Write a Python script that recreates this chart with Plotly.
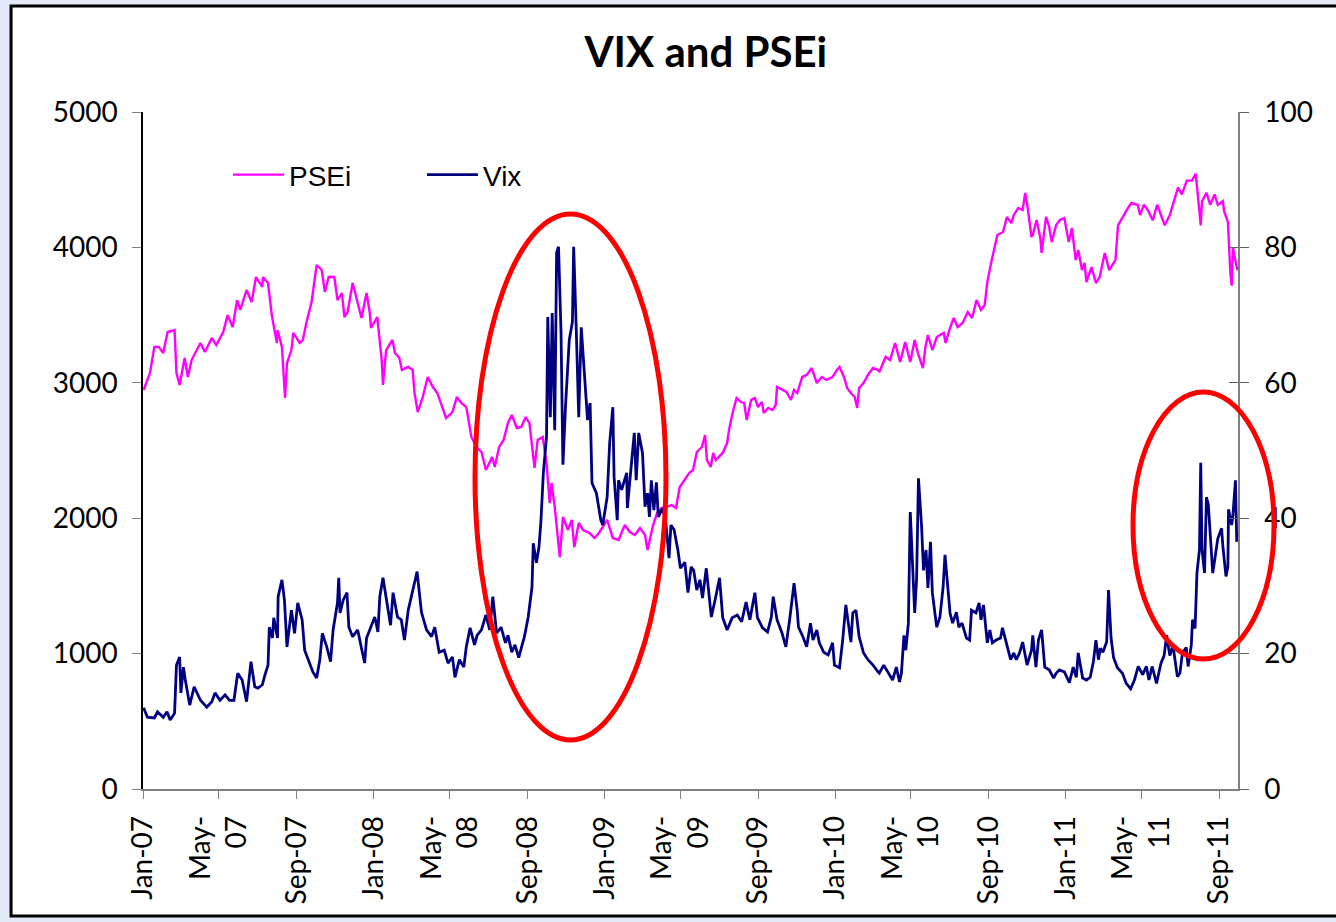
import plotly.graph_objects as go

# PSEi index (left axis)
psei_dates = [
    "2007-01-02", "2007-01-12", "2007-01-19", "2007-01-26", "2007-02-02", "2007-02-09", "2007-02-20", "2007-02-23",
    "2007-02-28", "2007-03-08", "2007-03-13", "2007-03-19", "2007-04-02", "2007-04-09", "2007-04-20", "2007-04-27",
    "2007-05-08", "2007-05-15", "2007-05-23", "2007-05-30", "2007-06-04", "2007-06-14", "2007-06-22", "2007-06-29",
    "2007-07-09", "2007-07-10", "2007-07-18", "2007-07-24", "2007-08-01", "2007-08-02", "2007-08-09", "2007-08-14",
    "2007-08-17", "2007-08-24", "2007-08-27", "2007-09-06", "2007-09-11", "2007-09-17", "2007-09-25", "2007-10-03",
    "2007-10-11", "2007-10-16", "2007-10-22", "2007-10-31", "2007-11-05", "2007-11-12", "2007-11-16", "2007-11-21",
    "2007-11-29", "2007-12-05", "2007-12-13", "2007-12-21", "2007-12-26", "2007-12-28", "2008-01-07", "2008-01-14",
    "2008-01-16", "2008-01-21", "2008-01-31", "2008-02-04", "2008-02-11", "2008-02-15", "2008-02-25", "2008-03-03",
    "2008-03-06", "2008-03-11", "2008-03-19", "2008-03-27", "2008-04-04", "2008-04-11", "2008-04-18", "2008-04-25",
    "2008-05-05", "2008-05-12", "2008-05-19", "2008-05-27", "2008-06-04", "2008-06-12", "2008-06-20", "2008-06-27",
    "2008-07-07", "2008-07-11", "2008-07-18", "2008-07-25", "2008-08-01", "2008-08-07", "2008-08-15", "2008-08-22",
    "2008-08-29", "2008-09-04", "2008-09-12", "2008-09-17", "2008-09-25", "2008-10-01", "2008-10-06", "2008-10-09",
    "2008-10-14", "2008-10-22", "2008-10-27", "2008-11-04", "2008-11-10", "2008-11-14", "2008-11-21", "2008-11-28",
    "2008-12-08", "2008-12-16", "2008-12-23", "2009-01-05", "2009-01-14", "2009-01-23", "2009-02-02", "2009-02-10",
    "2009-02-18", "2009-02-26", "2009-03-06", "2009-03-10", "2009-03-18", "2009-03-25", "2009-04-01", "2009-04-09",
    "2009-04-17", "2009-04-24", "2009-04-30", "2009-05-08", "2009-05-15", "2009-05-21", "2009-05-27", "2009-06-04",
    "2009-06-09", "2009-06-12", "2009-06-18", "2009-06-22", "2009-06-26", "2009-07-07", "2009-07-14", "2009-07-17",
    "2009-07-23", "2009-07-29", "2009-08-05", "2009-08-10", "2009-08-14", "2009-08-21", "2009-08-27", "2009-09-01",
    "2009-09-07", "2009-09-10", "2009-09-17", "2009-09-24", "2009-09-29", "2009-10-01", "2009-10-09", "2009-10-16",
    "2009-10-23", "2009-10-28", "2009-11-02", "2009-11-10", "2009-11-17", "2009-11-25", "2009-12-03", "2009-12-11",
    "2009-12-18", "2009-12-28", "2010-01-04", "2010-01-08", "2010-01-15", "2010-01-20", "2010-01-26", "2010-02-01",
    "2010-02-05", "2010-02-08", "2010-02-15", "2010-02-22", "2010-03-02", "2010-03-10", "2010-03-12", "2010-03-22",
    "2010-03-29", "2010-04-06", "2010-04-14", "2010-04-22", "2010-04-30", "2010-05-07", "2010-05-12", "2010-05-20",
    "2010-05-24", "2010-05-28", "2010-06-04", "2010-06-11", "2010-06-22", "2010-06-25", "2010-07-02", "2010-07-08",
    "2010-07-14", "2010-07-22", "2010-07-30", "2010-08-06", "2010-08-13", "2010-08-20", "2010-08-26", "2010-08-30",
    "2010-09-06", "2010-09-10", "2010-09-15", "2010-09-24", "2010-09-30", "2010-10-07", "2010-10-11", "2010-10-18",
    "2010-10-25", "2010-10-29", "2010-11-02", "2010-11-08", "2010-11-10", "2010-11-16", "2010-11-22", "2010-11-24",
    "2010-12-01", "2010-12-06", "2010-12-10", "2010-12-17", "2010-12-23", "2010-12-30", "2011-01-06", "2011-01-11",
    "2011-01-17", "2011-01-21", "2011-01-27", "2011-01-31", "2011-02-03", "2011-02-11", "2011-02-18", "2011-02-24",
    "2011-03-04", "2011-03-11", "2011-03-21", "2011-03-25", "2011-04-01", "2011-04-08", "2011-04-15", "2011-04-25",
    "2011-04-29", "2011-05-05", "2011-05-11", "2011-05-19", "2011-05-26", "2011-06-01", "2011-06-07", "2011-06-15",
    "2011-06-20", "2011-06-28", "2011-07-04", "2011-07-12", "2011-07-20", "2011-07-26", "2011-07-29", "2011-08-03",
    "2011-08-05", "2011-08-12", "2011-08-18", "2011-08-25", "2011-08-30", "2011-09-07", "2011-09-09", "2011-09-15",
    "2011-09-19", "2011-09-21", "2011-09-23", "2011-09-28", "2011-09-30",
]
psei_values = [
    2947, 3072, 3265, 3265, 3220, 3375, 3390, 3072,
    2984, 3183, 3043, 3168, 3294, 3227, 3331, 3279,
    3375, 3500, 3412, 3611, 3538, 3685, 3597, 3781,
    3708, 3781, 3737, 3500, 3294, 3390, 3265, 2888,
    3146, 3242, 3368, 3294, 3316, 3449, 3597, 3870,
    3833, 3671, 3781, 3781, 3611, 3663, 3486, 3523,
    3737, 3634, 3479, 3663, 3523, 3405, 3486, 3168,
    2984, 3242, 3316, 3220, 3183, 3095, 3117, 3095,
    2925, 2784, 2895, 3043, 2969, 2925, 2836, 2740,
    2784, 2895, 2851, 2821, 2600, 2526, 2489, 2356,
    2452, 2378, 2526, 2578, 2703, 2762, 2666, 2674,
    2747, 2703, 2371, 2578, 2600, 2408, 2112, 2260,
    2083, 1713, 2009, 1913, 1987, 1787, 1965, 1913,
    1891, 1854, 1891, 1987, 1854, 1839, 1950, 1898,
    1876, 1928, 1876, 1765, 1935, 2038, 2075, 2083,
    2097, 2075, 2230, 2282, 2334, 2356, 2489, 2526,
    2614, 2430, 2378, 2482, 2430, 2482, 2555, 2651,
    2784, 2888, 2858, 2851, 2725, 2873, 2888, 2821,
    2858, 2777, 2814, 2799, 2836, 2969, 2947, 2932,
    2873, 2947, 2925, 3043, 3058, 3109, 2998, 3043,
    3021, 3043, 3095, 3117, 3043, 2962, 2925, 2895,
    2814, 2962, 2998, 3058, 3109, 3095, 3080, 3191,
    3168, 3294, 3153, 3301, 3153, 3316, 3220, 3109,
    3265, 3353, 3242, 3338, 3368, 3294, 3405, 3479,
    3412, 3442, 3523, 3479, 3611, 3538, 3575, 3744,
    3907, 3996, 4092, 4114, 4225, 4180, 4240, 4291,
    4276, 4402, 4291, 4077, 4092, 4202, 4069, 3959,
    4225, 4151, 4040, 4165, 4202, 4217, 4040, 4143,
    3907, 3981, 3833, 3885, 3744, 3855, 3737, 3781,
    3959, 3832, 3908, 4163, 4226, 4277, 4328, 4315,
    4239, 4315, 4277, 4200, 4315, 4239, 4163, 4239,
    4315, 4442, 4391, 4493, 4493, 4544, 4404, 4163,
    4341, 4404, 4315, 4391, 4315, 4341, 4267, 4188,
    3806, 3717, 3997, 3857, 3832,
]

# VIX (right axis)
vix_dates = [
    "2007-01-02", "2007-01-08", "2007-01-19", "2007-01-24", "2007-02-02", "2007-02-08", "2007-02-13", "2007-02-20",
    "2007-02-23", "2007-02-28", "2007-03-02", "2007-03-06", "2007-03-09", "2007-03-16", "2007-03-23", "2007-04-02",
    "2007-04-12", "2007-04-20", "2007-04-25", "2007-05-03", "2007-05-11", "2007-05-18", "2007-05-25", "2007-05-31",
    "2007-06-07", "2007-06-14", "2007-06-21", "2007-06-27", "2007-07-02", "2007-07-09", "2007-07-13", "2007-07-18",
    "2007-07-20", "2007-07-25", "2007-07-27", "2007-08-02", "2007-08-03", "2007-08-09", "2007-08-13", "2007-08-17",
    "2007-08-24", "2007-08-29", "2007-09-03", "2007-09-10", "2007-09-14", "2007-09-21", "2007-09-27", "2007-10-03",
    "2007-10-08", "2007-10-12", "2007-10-19", "2007-10-25", "2007-10-29", "2007-11-05", "2007-11-07", "2007-11-09",
    "2007-11-14", "2007-11-20", "2007-11-23", "2007-11-29", "2007-12-07", "2007-12-13", "2007-12-18", "2007-12-21",
    "2007-12-31", "2008-01-03", "2008-01-08", "2008-01-11", "2008-01-16", "2008-01-22", "2008-01-28", "2008-02-01",
    "2008-02-08", "2008-02-14", "2008-02-19", "2008-02-25", "2008-03-03", "2008-03-10", "2008-03-17", "2008-03-25",
    "2008-04-02", "2008-04-07", "2008-04-14", "2008-04-22", "2008-04-28", "2008-05-05", "2008-05-09", "2008-05-16",
    "2008-05-23", "2008-05-27", "2008-06-02", "2008-06-09", "2008-06-13", "2008-06-20", "2008-06-27", "2008-07-03",
    "2008-07-08", "2008-07-14", "2008-07-21", "2008-07-28", "2008-08-01", "2008-08-07", "2008-08-12", "2008-08-18",
    "2008-08-22", "2008-08-27", "2008-09-02", "2008-09-08", "2008-09-10", "2008-09-15", "2008-09-19", "2008-09-22",
    "2008-09-26", "2008-10-01", "2008-10-03", "2008-10-07", "2008-10-10", "2008-10-14", "2008-10-17", "2008-10-20",
    "2008-10-24", "2008-10-27", "2008-10-31", "2008-11-06", "2008-11-11", "2008-11-13", "2008-11-17", "2008-11-21",
    "2008-11-25", "2008-12-01", "2008-12-05", "2008-12-09", "2008-12-12", "2008-12-19", "2008-12-26", "2008-12-29",
    "2009-01-05", "2009-01-09", "2009-01-14", "2009-01-16", "2009-01-21", "2009-01-23", "2009-01-28", "2009-02-05",
    "2009-02-06", "2009-02-13", "2009-02-17", "2009-02-20", "2009-02-24", "2009-03-02", "2009-03-06", "2009-03-10",
    "2009-03-13", "2009-03-16", "2009-03-20", "2009-03-24", "2009-03-27", "2009-04-03", "2009-04-08", "2009-04-13",
    "2009-04-16", "2009-04-21", "2009-04-27", "2009-05-01", "2009-05-08", "2009-05-13", "2009-05-18", "2009-05-22",
    "2009-05-27", "2009-06-01", "2009-06-05", "2009-06-11", "2009-06-16", "2009-06-19", "2009-06-26", "2009-07-02",
    "2009-07-07", "2009-07-14", "2009-07-22", "2009-07-30", "2009-08-06", "2009-08-13", "2009-08-19", "2009-08-27",
    "2009-08-31", "2009-09-08", "2009-09-16", "2009-09-22", "2009-09-25", "2009-10-01", "2009-10-09", "2009-10-15",
    "2009-10-21", "2009-10-28", "2009-11-02", "2009-11-04", "2009-11-11", "2009-11-17", "2009-11-23", "2009-11-27",
    "2009-12-03", "2009-12-07", "2009-12-14", "2009-12-21", "2009-12-28", "2009-12-31", "2010-01-08", "2010-01-13",
    "2010-01-18", "2010-01-21", "2010-01-26", "2010-01-29", "2010-02-03", "2010-02-08", "2010-02-15", "2010-02-22",
    "2010-03-02", "2010-03-10", "2010-03-12", "2010-03-19", "2010-03-25", "2010-04-02", "2010-04-08", "2010-04-13",
    "2010-04-16", "2010-04-20", "2010-04-23", "2010-04-27", "2010-04-30", "2010-05-05", "2010-05-07", "2010-05-10",
    "2010-05-13", "2010-05-18", "2010-05-21", "2010-05-25", "2010-05-28", "2010-06-01", "2010-06-04", "2010-06-08",
    "2010-06-11", "2010-06-16", "2010-06-21", "2010-06-24", "2010-06-28", "2010-07-02", "2010-07-06", "2010-07-12",
    "2010-07-16", "2010-07-21", "2010-07-28", "2010-08-02", "2010-08-05", "2010-08-12", "2010-08-17", "2010-08-20",
    "2010-08-24", "2010-08-30", "2010-09-03", "2010-09-07", "2010-09-13", "2010-09-20", "2010-09-23", "2010-09-29",
    "2010-10-06", "2010-10-11", "2010-10-15", "2010-10-20", "2010-10-25", "2010-11-01", "2010-11-08", "2010-11-10",
    "2010-11-15", "2010-11-19", "2010-11-24", "2010-11-29", "2010-12-06", "2010-12-13", "2010-12-17", "2010-12-22",
    "2010-12-30", "2011-01-07", "2011-01-13", "2011-01-18", "2011-01-21", "2011-01-28", "2011-02-03", "2011-02-09",
    "2011-02-14", "2011-02-18", "2011-02-22", "2011-02-25", "2011-03-01", "2011-03-07", "2011-03-10", "2011-03-14",
    "2011-03-18", "2011-03-24", "2011-04-01", "2011-04-07", "2011-04-14", "2011-04-20", "2011-04-26", "2011-05-03",
    "2011-05-09", "2011-05-13", "2011-05-18", "2011-05-25", "2011-06-01", "2011-06-06", "2011-06-10", "2011-06-15",
    "2011-06-20", "2011-06-27", "2011-07-01", "2011-07-05", "2011-07-11", "2011-07-14", "2011-07-19", "2011-07-21",
    "2011-07-25", "2011-07-28", "2011-08-01", "2011-08-03", "2011-08-05", "2011-08-09", "2011-08-12", "2011-08-15",
    "2011-08-18", "2011-08-22", "2011-08-26", "2011-08-30", "2011-09-05", "2011-09-07", "2011-09-12", "2011-09-15",
    "2011-09-16", "2011-09-21", "2011-09-23", "2011-09-27", "2011-09-29",
]
vix_values = [
    12.0, 10.6, 10.5, 11.4, 10.6, 11.4, 10.2, 11.2,
    18.3, 19.5, 14.2, 18.0, 16.1, 12.4, 15.1, 13.1,
    12.1, 12.9, 14.2, 13.1, 13.9, 13.1, 13.1, 17.1,
    16.1, 12.9, 18.8, 15.1, 14.9, 15.4, 16.8, 18.3,
    23.9, 22.3, 25.3, 22.3, 28.4, 30.9, 27.9, 21.0,
    26.4, 23.0, 27.5, 25.0, 20.5, 18.6, 17.3, 16.4,
    19.1, 23.0, 21.0, 18.8, 23.5, 27.5, 31.2, 26.0,
    27.9, 29.0, 23.9, 22.5, 23.5, 20.8, 18.6, 22.3,
    24.5, 25.4, 23.2, 28.4, 31.2, 27.5, 24.2, 29.0,
    25.4, 25.0, 22.0, 26.4, 29.1, 32.1, 26.1, 23.5,
    22.5, 23.9, 20.2, 20.5, 18.6, 19.5, 16.5, 19.1,
    18.0, 21.0, 23.8, 21.3, 22.7, 23.5, 25.7, 23.5,
    28.4, 23.0, 23.9, 21.6, 22.7, 20.2, 21.3, 19.4,
    20.8, 22.5, 25.4, 29.8, 36.3, 33.4, 35.7, 39.3,
    46.7, 52.0, 69.7, 54.9, 70.3, 53.0, 79.2, 80.1,
    67.4, 47.9, 56.4, 66.3, 69.0, 80.1, 68.2, 54.9,
    68.2, 58.9, 54.5, 57.0, 45.2, 43.7, 39.7, 39.0,
    43.1, 51.1, 56.4, 46.1, 39.7, 45.6, 44.2, 46.7,
    41.5, 48.6, 52.6, 45.6, 52.6, 49.6, 41.7, 43.7,
    40.2, 45.6, 41.2, 45.3, 40.2, 41.5, 39.3, 34.1,
    39.0, 38.3, 35.3, 32.6, 33.5, 29.0, 32.8, 32.3,
    29.4, 30.9, 28.2, 32.6, 28.2, 25.4, 28.4, 31.2,
    25.3, 23.5, 25.3, 25.7, 24.7, 27.6, 25.0, 29.0,
    25.3, 23.8, 23.2, 25.4, 28.4, 25.0, 23.0, 21.0,
    25.0, 30.4, 26.4, 23.9, 22.5, 21.0, 24.5, 22.0,
    23.5, 21.6, 20.2, 19.8, 21.6, 18.3, 17.9, 22.0,
    27.2, 25.0, 21.7, 26.0, 26.4, 22.5, 20.1, 19.1,
    18.3, 17.3, 17.1, 18.3, 17.3, 16.1, 18.0, 15.8,
    17.1, 22.7, 20.5, 24.5, 40.9, 30.9, 26.0, 30.9,
    45.9, 38.7, 32.3, 35.3, 29.7, 36.5, 29.0, 26.0,
    23.9, 25.4, 29.8, 34.6, 30.1, 26.0, 24.5, 26.1,
    23.9, 24.5, 22.3, 22.0, 26.4, 26.0, 27.5, 25.0,
    27.2, 21.6, 23.5, 21.6, 22.0, 22.3, 23.8, 21.7,
    19.1, 20.1, 19.1, 20.1, 21.7, 18.3, 20.5, 22.7,
    18.0, 22.0, 23.5, 18.0, 17.6, 16.4, 17.1, 17.6,
    17.3, 15.7, 18.0, 16.5, 20.1, 16.4, 16.1, 16.5,
    18.8, 22.0, 19.1, 20.8, 20.2, 21.7, 29.4, 22.3,
    19.4, 17.9, 17.1, 15.6, 14.8, 16.1, 18.1, 16.9,
    18.1, 16.1, 18.1, 15.6, 18.6, 19.7, 22.7, 19.7,
    21.2, 16.6, 17.1, 20.1, 20.9, 18.1, 21.2, 25.0,
    23.7, 31.9, 35.4, 48.2, 35.4, 31.9, 43.1, 42.0,
    37.0, 31.9, 34.4, 37.0, 38.5, 35.9, 31.4, 32.9,
    41.3, 39.0, 40.5, 45.6, 36.5,
]

# x axis ticks every four months
tick_dates = [
    "2007-01-01", "2007-05-01", "2007-09-01", "2008-01-01", "2008-05-01", "2008-09-01",
    "2009-01-01", "2009-05-01", "2009-09-01", "2010-01-01", "2010-05-01", "2010-09-01",
    "2011-01-01", "2011-05-01", "2011-09-01",
]
tick_labels = [
    "Jan-07", "May-<br>07", "Sep-07", "Jan-08", "May-<br>08", "Sep-08",
    "Jan-09", "May-<br>09", "Sep-09", "Jan-10", "May-<br>10", "Sep-10",
    "Jan-11", "May-<br>11", "Sep-11",
]

TICK_FONT = dict(family="Lato, Calibri, sans-serif", size=28, color="black")

fig = go.Figure()
fig.add_trace(go.Scatter(x=psei_dates, y=psei_values, name="PSEi", mode="lines",
                         line=dict(color="#FF00FF", width=2.4)))
fig.add_trace(go.Scatter(x=vix_dates, y=vix_values, name="Vix", mode="lines",
                         line=dict(color="#000080", width=2.8), yaxis="y2"))

fig.update_layout(
    width=1336, height=922,
    margin=dict(l=143, r=98, t=112, b=133, autoexpand=False),
    paper_bgcolor="#E3E9F6",
    plot_bgcolor="white",
    title=dict(text="<b>VIX and PSEi</b>", x=0.514, xref="paper", xanchor="center",
               y=1 - 52 / 922, yref="container", yanchor="middle",
               font=dict(family="Lato, Calibri, sans-serif", size=42, color="black")),
    showlegend=True,
    legend=dict(orientation="h", x=0.0776, y=0.907, xanchor="left", yanchor="middle",
                bgcolor="rgba(0,0,0,0)", itemwidth=51, entrywidth=128,
                font=dict(family="Liberation Sans, Arial, sans-serif", size=28, color="black")),
    xaxis=dict(type="date", range=["2007-01-01", "2011-10-01"],
               tickmode="array", tickvals=tick_dates, ticktext=tick_labels, tickangle=-90,
               ticks="outside", ticklen=8, tickcolor="#808080", showline=True, linecolor="#808080",
               linewidth=1.5, showgrid=False, zeroline=False, tickfont=TICK_FONT,
               ticklabelstandoff=6),
    yaxis=dict(range=[0, 5000], dtick=1000, tickmode="linear", tick0=0,
               ticks="outside", ticklen=9, tickcolor="#808080", showline=True, linecolor="black",
               linewidth=1.5, showgrid=False, zeroline=False, tickfont=TICK_FONT,
               ticklabelstandoff=9),
    yaxis2=dict(range=[0, 100], dtick=20, tickmode="linear", tick0=0, overlaying="y", side="right",
                ticks="outside", ticklen=9, tickcolor="#606060", showline=True, linecolor="#808080",
                linewidth=1.5, showgrid=False, zeroline=False, tickfont=TICK_FONT,
                ticklabelstandoff=10),
    yaxis3=dict(range=[0, 100], dtick=20, tickmode="linear", tick0=0, overlaying="y", side="right",
                ticks="inside", ticklen=9, tickcolor="#606060", showticklabels=False,
                showline=False, showgrid=False, zeroline=False),
)

# invisible trace so the inner tick marks of the right axis are drawn
fig.add_trace(go.Scatter(x=[psei_dates[0]], y=[None], yaxis="y3", showlegend=False, hoverinfo="skip"))

# chart frame
fig.add_shape(type="rect", xref="paper", yref="paper", x0=-0.1205, x1=1.1, y0=-0.1876, y1=1.1566,
              fillcolor="white", line=dict(color="black", width=3), layer="below")

# red highlight ellipses
fig.add_shape(type="circle", xref="paper", yref="paper", x0=0.3032, x1=0.4776, y0=0.0724, y1=0.8493,
              line=dict(color="#FF0000", width=5))
fig.add_shape(type="circle", xref="paper", yref="paper", x0=0.9041, x1=1.0329, y0=0.1920, y1=0.5864,
              line=dict(color="#FF0000", width=5))

fig.write_html("out.html", config={"displayModeBar": False},
               post_script="document.body.style.margin='0';")
